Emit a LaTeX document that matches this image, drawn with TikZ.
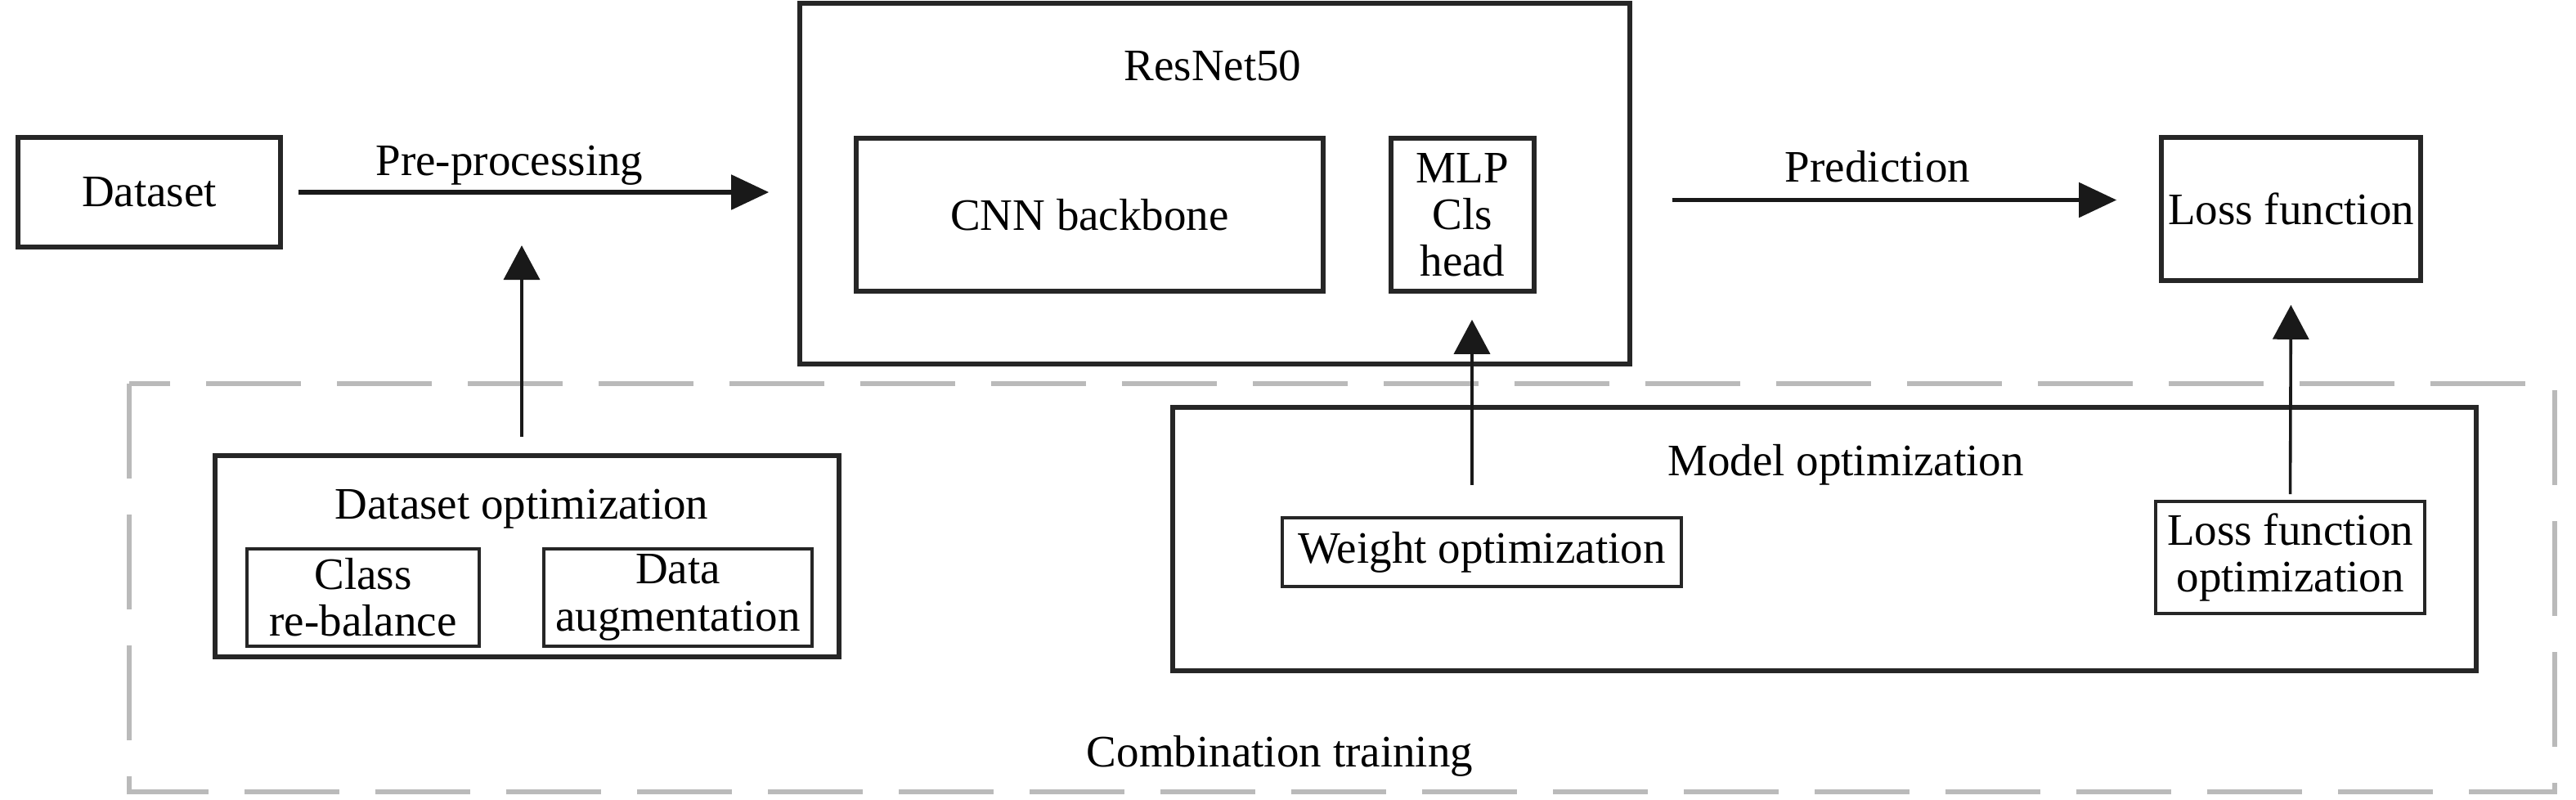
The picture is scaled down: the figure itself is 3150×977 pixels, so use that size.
\documentclass[tikz,border=0pt]{standalone}
\usepackage{fontspec}
\setmainfont{Liberation Serif}
\usepackage{tikz}
\usetikzlibrary{arrows.meta}

\begin{document}
\begin{tikzpicture}[x=0.25pt,y=0.25pt,yscale=-1,xscale=1,
  font=\fontsize{13.75pt}{14.3pt}\selectfont,
  box/.style={draw=black!85, line width=1.4pt, inner sep=0pt, align=center},
  subbox/.style={draw=black!85, line width=0.9pt, inner sep=0pt, align=center},
  txt/.style={inner sep=0pt, align=center},
  flow/.style={draw=black!90, line width=1.3pt, -{Triangle[length=11.5pt,width=10.5pt]}},
  feed/.style={draw=black!90, line width=0.9pt, -{Triangle[length=10.5pt,width=11pt]}}]
\useasboundingbox (0,0) rectangle (3150,977);

%Shape: Dashed Rectangle (combination training)
\draw [black!27, line width=1.4pt, dash pattern=on 29pt off 11pt] (158,469) rectangle (3124,968) ;

%Shape: Rectangle
\node [box, minimum width=80.25pt, minimum height=33.5pt] (dataset) at (182.5,235) {Dataset};
%Shape: Rectangle
\node [box, minimum width=253.75pt, minimum height=110.25pt] (resnet) at (1485.5,224.5) {};
%Shape: Rectangle
\node [box, minimum width=142.75pt, minimum height=46.75pt] (cnn) at (1332.5,262.5) {CNN backbone};
%Shape: Rectangle
\node [box, minimum width=43.75pt, minimum height=46.75pt] (mlp) at (1788.5,262.5) {MLP\\Cls\\head};
%Shape: Rectangle
\node [box, minimum width=79.25pt, minimum height=43.75pt] (loss) at (2801.5,255.5) {Loss function};

%Shape: Rectangle
\node [box, minimum width=190.75pt, minimum height=61.5pt] (dsopt) at (644.5,680) {};
%Shape: Rectangle
\node [subbox, minimum width=71pt, minimum height=29.75pt] (rebal) at (444,730.5) {Class\\re-balance};
%Shape: Rectangle
\node [subbox, minimum width=82pt, minimum height=29.75pt] (augment) at (829,730.5) {Data\\augmentation};

%Shape: Rectangle
\node [box, minimum width=398.5pt, minimum height=80.5pt] (modelopt) at (2231,659) {};
%Shape: Rectangle
\node [subbox, minimum width=122pt, minimum height=21pt] (weightopt) at (1812,675) {Weight optimization};
%Shape: Rectangle
\node [subbox, minimum width=82.25pt, minimum height=34.25pt] (lossopt) at (2800.5,681.5) {Loss function\\optimization};

% Text Node
\node [txt] (resnetlbl) at (1483,80) {ResNet50};
% Text Node
\node [txt] (dsoptlbl) at (638,622) {Dataset optimization};
% Text Node
\node [txt] (modeloptlbl) at (2257,568) {Model optimization};
% Text Node
\node [txt] (combolbl) at (1565,924) {Combination training};
% Text Node
\node [txt] (pplbl) at (623,202) {Pre-processing};
% Text Node
\node [txt] (predlbl) at (2296,204) {Prediction};

\coordinate (ppmid) at (638,237);

%Straight Lines
\draw [flow, shorten <=4.75pt, shorten >=8.75pt] (dataset.east) -- (dataset.east -| resnet.west) ;
%Straight Lines
\draw [flow, shorten <=12.25pt, shorten >=13pt] ([yshift=-2.75pt]loss.west -| resnet.east) -- ([yshift=-2.75pt]loss.west) ;
%Straight Lines
\draw [feed, shorten <=5pt, shorten >=15.75pt] (dsopt.north -| ppmid) -- (ppmid) ;
%Straight Lines
\draw [feed, shorten <=9.5pt, shorten >=8pt] ([xshift=-3pt]weightopt.north) -- ([xshift=-3pt]weightopt.north |- mlp.south) ;
%Straight Lines
\draw [feed, shorten <=1.75pt, shorten >=6.75pt] (lossopt.north) -- (loss.south) ;

\end{tikzpicture}
\end{document}
